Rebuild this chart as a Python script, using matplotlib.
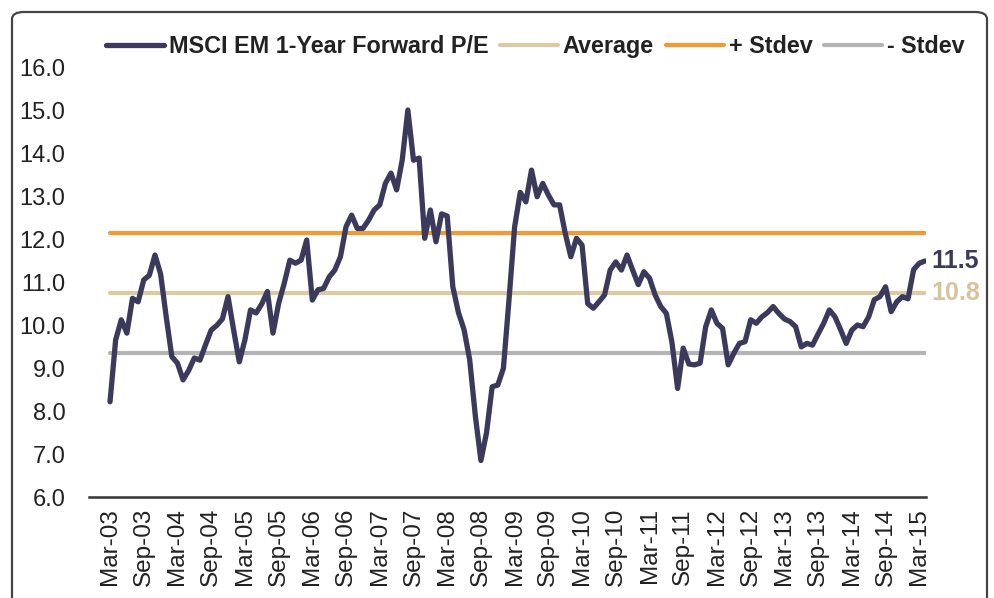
import matplotlib
matplotlib.use("Agg")
import matplotlib.pyplot as plt
from matplotlib.patches import FancyBboxPatch

# ---- data ----
pe_values = [
    8.22, 9.66, 10.13, 9.82, 10.63, 10.55, 11.06, 11.17, 11.64, 11.20,   # Mar-03 ..
    10.20, 9.27, 9.12, 8.73, 8.95, 9.24, 9.19, 9.55, 9.89, 10.00,
    10.15, 10.67, 9.89, 9.15, 9.66, 10.36, 10.29, 10.50, 10.79, 9.82,
    10.51, 10.98, 11.52, 11.45, 11.52, 11.99, 10.59, 10.83, 10.86, 11.13,
    11.29, 11.60, 12.30, 12.57, 12.26, 12.26, 12.45, 12.69, 12.81, 13.31,
    13.55, 13.16, 13.86, 15.02, 13.85, 13.90, 12.03, 12.69, 11.95, 12.60,
    12.55, 10.90, 10.30, 9.90, 9.20, 7.90, 6.85, 7.50, 8.57, 8.61,
    9.00, 10.60, 12.30, 13.10, 12.88, 13.62, 13.00, 13.31, 13.04, 12.81,
    12.81, 12.15, 11.60, 12.03, 11.87, 10.51, 10.40, 10.55, 10.71, 11.29,
    11.48, 11.29, 11.64, 11.29, 10.95, 11.25, 11.10, 10.71, 10.44, 10.28,
    9.60, 8.53, 9.47, 9.10, 9.08, 9.12, 9.97, 10.36, 10.05, 9.93,
    9.08, 9.35, 9.58, 9.62, 10.13, 10.05, 10.20, 10.30, 10.44, 10.28,
    10.15, 10.09, 9.97, 9.50, 9.58, 9.54, 9.80, 10.05, 10.36, 10.20,
    9.90, 9.58, 9.89, 10.01, 9.97, 10.20, 10.60, 10.67, 10.90, 10.32,
    10.55, 10.67, 10.62, 11.30, 11.45, 11.50,
]
average = 10.76
stdev = 1.40
tick_labels = ["Mar-03", "Sep-03", "Mar-04", "Sep-04", "Mar-05", "Sep-05",
               "Mar-06", "Sep-06", "Mar-07", "Sep-07", "Mar-08", "Sep-08",
               "Mar-09", "Sep-09", "Mar-10", "Sep-10", "Mar-11", "Sep-11",
               "Mar-12", "Sep-12", "Mar-13", "Sep-13", "Mar-14", "Sep-14",
               "Mar-15"]
y_ticks = [6.0, 7.0, 8.0, 9.0, 10.0, 11.0, 12.0, 13.0, 14.0, 15.0, 16.0]
series_names = ["MSCI EM 1-Year Forward P/E", "Average", "+ Stdev", "- Stdev"]
end_labels = ["11.5", "10.8"]

# ---- style ----
plt.rcParams['font.family'] = ['Liberation Sans', 'DejaVu Sans']
c_main = '#3c3a5c'
c_avg = '#dccaa5'
c_plus = '#f39a34'
c_minus = '#b4b4b4'

W, H = 995, 598
fig = plt.figure(figsize=(W / 100, H / 100), dpi=100)
ax = fig.add_axes([89 / W, 1 - 497 / H, (926 - 89) / W, (497 - 68) / H])

n = len(pe_values)
x = list(range(n))
ax.plot(x, [average] * n, color=c_avg, lw=3.0, solid_capstyle='round', zorder=2, label=series_names[1])
ax.plot(x, [average + stdev] * n, color=c_plus, lw=3.0, solid_capstyle='round', zorder=2, label=series_names[2])
ax.plot(x, [average - stdev] * n, color=c_minus, lw=3.0, solid_capstyle='round', zorder=2, label=series_names[3])
ax.plot(x, pe_values, color=c_main, lw=3.8, solid_joinstyle='round', solid_capstyle='round', zorder=3,
        label=series_names[0])

ax.set_xlim(-3.74, n - 1 + 0.2)
ax.set_ylim(6.0, 16.0)
ax.set_yticks(y_ticks)
ax.set_yticklabels([f"{v:.1f}" for v in y_ticks], fontsize=17, color='#222222')
ax.set_xticks(list(range(0, 145, 6)))
ax.set_xticklabels(tick_labels, rotation=90, fontsize=17.5, color='#222222')
ax.tick_params(axis='both', length=0)
ax.tick_params(axis='y', pad=17)
ax.tick_params(axis='x', pad=8)
for s in ['top', 'right', 'left']:
    ax.spines[s].set_visible(False)
ax.spines['bottom'].set_color('#333333')
ax.spines['bottom'].set_linewidth(1.8)

# end labels
ax.annotate(end_labels[0], xy=(n - 1, pe_values[-1]), xytext=(5, 0), textcoords='offset points',
            ha='left', va='center', fontsize=18, fontweight='bold', color=c_main, annotation_clip=False)
ax.annotate(end_labels[1], xy=(n - 1, average), xytext=(5, 0), textcoords='offset points',
            ha='left', va='center', fontsize=18, fontweight='bold', color='#d8c29a', annotation_clip=False)

# legend
handles, labels = ax.get_legend_handles_labels()
order = [3, 0, 1, 2]
leg = ax.legend([handles[i] for i in order], [labels[i] for i in order], loc='center',
                bbox_to_anchor=(0.533, 1.049), ncol=4, frameon=False, fontsize=16.8,
                handlelength=2.5, handletextpad=0.2, columnspacing=0.5, borderaxespad=0)
for t in leg.get_texts():
    t.set_fontweight('bold')
    t.set_color('#222222')

# frame
frame = FancyBboxPatch((12 / W, -0.05), (987 - 12) / W, 1.05 - 12 / H + 0.0,
                       boxstyle='round,pad=0,rounding_size=0.012', transform=fig.transFigure,
                       fill=False, edgecolor='#444444', lw=1.6, zorder=0)
fig.patches.append(frame)

fig.savefig("out.png", dpi=100)
